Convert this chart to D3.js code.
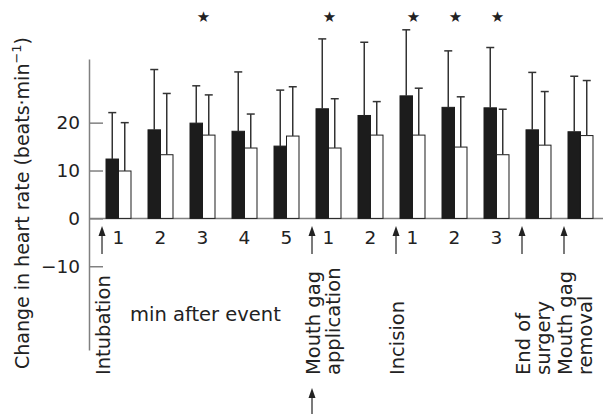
<!DOCTYPE html>
<html>
<head>
<meta charset="utf-8">
<script src="https://cdn.jsdelivr.net/npm/d3@7"></script>
<style>
  body { margin: 0; background: #fff; }
  text { font-family: "DejaVu Sans", sans-serif; fill: #222; }
</style>
</head>
<body>
<div id="chart"></div>
<script>
// values (beats/min)
const groupLabels = ["1", "2", "3", "4", "5", "1", "2", "1", "2", "3", "", ""];
const blackMeans = [12.4, 18.5, 19.9, 18.2, 15.1, 22.9, 21.5, 25.6, 23.2, 23.1, 18.5, 18.1];
const blackSD = [9.7, 12.6, 7.8, 12.4, 11.7, 14.6, 15.3, 13.8, 11.8, 12.6, 12.0, 11.6];
const whiteMeans = [9.9, 13.3, 17.4, 14.7, 17.2, 14.7, 17.4, 17.4, 14.9, 13.3, 15.3, 17.3];
const whiteSD = [10.1, 12.8, 8.4, 7.1, 10.3, 10.3, 7.0, 9.8, 10.5, 9.5, 11.2, 11.5];
const significant = [2, 5, 7, 8, 9];
const eventNames = [["Intubation"], ["Mouth gag", "application"], ["Incision"], ["End of", "surgery"], ["Mouth gag", "removal"]];
const eventBefore = [0, 5, 7, 10, 11];
const yTicks = [-10, 0, 10, 20];

const width = 603;
const height = 414;
const axisColor = "#808080";

const svg = d3.select("#chart").append("svg")
  .attr("width", width)
  .attr("height", height);

const y = d3.scaleLinear().domain([-27.5, 33.3]).range([350, 59]);
const x = d3.scaleBand()
  .domain(d3.range(groupLabels.length))
  .range([89, 610])
  .paddingInner(0.405)
  .paddingOuter(0.405);
const xSub = d3.scaleBand().domain(["black", "white"]).range([0, x.bandwidth()]);

// y axis, ticks pointing inward
const yAxis = svg.append("g")
  .attr("transform", "translate(89,0)")
  .call(d3.axisLeft(y).tickValues(yTicks).tickSizeInner(-14).tickSizeOuter(0).tickPadding(9));
yAxis.select(".domain").attr("stroke", axisColor).attr("stroke-width", 1.5);
yAxis.selectAll(".tick line").attr("stroke", axisColor).attr("stroke-width", 1.5);
yAxis.selectAll(".tick text")
  .attr("font-family", "DejaVu Sans, sans-serif")
  .attr("font-size", 18.5)
  .attr("fill", "#222");

// baseline
svg.append("line")
  .attr("x1", 89).attr("x2", width)
  .attr("y1", y(0)).attr("y2", y(0))
  .attr("stroke", axisColor)
  .attr("stroke-width", 1.5);

const bars = [];
groupLabels.forEach((g, i) => {
  bars.push({ i, key: "black", mean: blackMeans[i], sd: blackSD[i] });
  bars.push({ i, key: "white", mean: whiteMeans[i], sd: whiteSD[i] });
});

const barG = svg.append("g");
barG.selectAll("rect")
  .data(bars)
  .join("rect")
  .attr("x", d => x(d.i) + xSub(d.key))
  .attr("y", d => y(d.mean))
  .attr("width", xSub.bandwidth())
  .attr("height", d => y(0) - y(d.mean))
  .attr("fill", d => d.key === "black" ? "#1c1c1c" : "#fff")
  .attr("stroke", "#1c1c1c")
  .attr("stroke-width", 1);

// error bars (upper only)
const err = svg.append("g").attr("stroke", "#333").attr("stroke-width", 1.5);
err.selectAll("line.v")
  .data(bars)
  .join("line")
  .attr("class", "v")
  .attr("x1", d => x(d.i) + xSub(d.key) + xSub.bandwidth() / 2)
  .attr("x2", d => x(d.i) + xSub(d.key) + xSub.bandwidth() / 2)
  .attr("y1", d => y(d.mean))
  .attr("y2", d => y(d.mean + d.sd));
err.selectAll("line.cap")
  .data(bars)
  .join("line")
  .attr("class", "cap")
  .attr("x1", d => x(d.i) + xSub(d.key) + xSub.bandwidth() / 2 - 4)
  .attr("x2", d => x(d.i) + xSub(d.key) + xSub.bandwidth() / 2 + 4)
  .attr("y1", d => y(d.mean + d.sd))
  .attr("y2", d => y(d.mean + d.sd));

// significance stars
svg.append("g").selectAll("text")
  .data(significant)
  .join("text")
  .attr("x", i => x(i) + x.bandwidth() / 2 + 1)
  .attr("y", 22)
  .attr("text-anchor", "middle")
  .attr("font-size", 15)
  .text("\u2605");

// minute labels
svg.append("g").selectAll("text")
  .data(groupLabels)
  .join("text")
  .attr("x", (d, i) => x(i) + x.bandwidth() / 2)
  .attr("y", 244)
  .attr("text-anchor", "middle")
  .attr("font-size", 18.5)
  .text(d => d);

svg.append("text")
  .attr("x", 130)
  .attr("y", 321)
  .attr("font-size", 19.5)
  .text("min after event");

// event arrows and labels
function arrow(ax, tip, bottom) {
  svg.append("line")
    .attr("x1", ax).attr("x2", ax)
    .attr("y1", bottom).attr("y2", tip + 8)
    .attr("stroke", "#333")
    .attr("stroke-width", 1.3);
  svg.append("path")
    .attr("d", `M${ax - 3.5},${tip + 10}L${ax},${tip}L${ax + 3.5},${tip + 10}Z`)
    .attr("fill", "#222");
}

eventBefore.forEach((g, k) => {
  const ax = x(g) - 4;
  arrow(ax, 226, 254);
  const label = svg.append("text")
    .attr("transform", `translate(${ax + 8},375) rotate(-90)`)
    .attr("font-size", 19.5);
  eventNames[k].forEach((line, j) => {
    label.append("tspan")
      .attr("x", 0)
      .attr("y", j * 20)
      .text(line);
  });
});

// second arrow below the mouth gag application label
arrow(x(eventBefore[1]) - 4, 388, height);

// y axis title
const title = svg.append("text")
  .attr("transform", "translate(29,203) rotate(-90)")
  .attr("text-anchor", "middle")
  .attr("font-size", 19);
title.append("tspan").text("Change in heart rate (beats\u00b7min");
title.append("tspan").attr("font-size", 13).attr("dy", -8).text("\u22121");
title.append("tspan").attr("dy", 8).text(")");
</script>
</body>
</html>
